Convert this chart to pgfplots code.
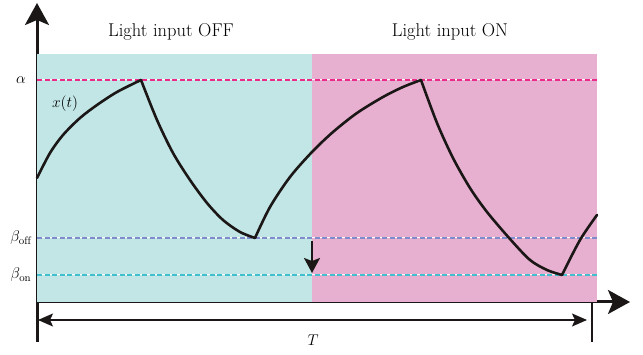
\RequirePackage{fix-cm}
\documentclass[border=0pt]{standalone}
\usepackage{fontspec}
\usepackage{pgfplots}
\pgfplotsset{compat=1.18}
\usetikzlibrary{arrows.meta}
\definecolor{bgoff}{HTML}{C2E6E6}
\definecolor{bgon}{HTML}{E8B0D0}
\definecolor{alphac}{HTML}{EC2A8A}
\definecolor{boffc}{HTML}{7F8CCB}
\definecolor{bonc}{HTML}{40BFCF}
\definecolor{ink}{HTML}{1A1716}
\begin{document}
\begin{tikzpicture}[font=\fontsize{15.5}{18}\selectfont]
\begin{axis}[
    scale only axis,
    width=593pt, height=339pt,
    xmin=0, xmax=593, ymin=-40, ymax=299,
    axis lines=middle,
    axis line style={ink, line width=3pt},
    x axis line style={-{Stealth[length=22pt,width=24pt,inset=5pt]}},
    y axis line style={-{Stealth[length=22pt,width=24pt,inset=5pt]}},
    xtick=\empty, ytick=\empty,
    clip=false,
    xcurve/.style={ink, line width=2.6pt, smooth, line cap=round},
]
% shaded phases
\addplot[draw=none, fill=bgoff] coordinates {(0,0) (275,0) (275,248) (0,248)} -- cycle;
\addplot[draw=none, fill=bgon] coordinates {(275,0) (560,0) (560,248) (275,248)} -- cycle;
% thresholds
\addplot[white, line width=1pt] coordinates {(0,222) (560,222)};
\addplot[white, line width=1pt] coordinates {(0,64) (560,64)};
\addplot[white, line width=1pt] coordinates {(0,27) (560,27)};
\addplot[alphac, line width=2.4pt, dash pattern=on 5pt off 2.5pt] coordinates {(0,222) (560,222)};
\addplot[boffc, line width=2.2pt, dash pattern=on 5pt off 2.5pt] coordinates {(0,64) (560,64)};
\addplot[bonc, line width=2.2pt, dash pattern=on 5pt off 2.5pt] coordinates {(0,27) (560,27)};
% x(t), one smooth piece per phase
\addplot[xcurve] coordinates {(0,124) (13,149) (26,167) (43,184) (60,197) (80,210) (104,222)};
\addplot[xcurve] coordinates {(104,222) (120,182) (136,149) (153,122) (170,99) (186,82) (203,70) (218,64)};
\addplot[xcurve] coordinates {(218,64) (233,95) (253,125) (275,150) (296,170) (320,189) (346,205) (366,215) (384,222)};
\addplot[xcurve] coordinates {(384,222) (400,179) (416,144) (433,114) (450,90) (473,63) (493,42) (510,32) (525,27)};
\addplot[xcurve] coordinates {(525,27) (543,62) (560,87)};
% switch arrow
\addplot[ink, line width=2pt, -{Stealth[length=15pt,width=16pt,inset=3pt]}] coordinates {(275,61) (275,29)};
% period
\addplot[ink, line width=1.5pt, {Stealth[length=15pt,width=13pt,inset=3pt]}-{Stealth[length=15pt,width=13pt,inset=3pt]}] coordinates {(1,-18) (550,-18)};
\addplot[ink, line width=2.4pt] coordinates {(555,0) (555,-40)};
% labels
\node[font=\fontsize{18.5}{22}\selectfont] at (axis cs:134,270) {Light input OFF};
\node[font=\fontsize{18.5}{22}\selectfont] at (axis cs:413,270) {Light input ON};
\node at (axis cs:-16,222) {$\alpha$};
\node at (axis cs:28,198) {$x(t)$};
\node at (axis cs:-16,64) {$\beta_{\mathrm{off}}$};
\node at (axis cs:-16,27) {$\beta_{\mathrm{on}}$};
\node at (axis cs:276,-38) {$T$};
\path[use as bounding box] (axis cs:-37,-53) rectangle (axis cs:606,302);
\end{axis}
\end{tikzpicture}
\end{document}
